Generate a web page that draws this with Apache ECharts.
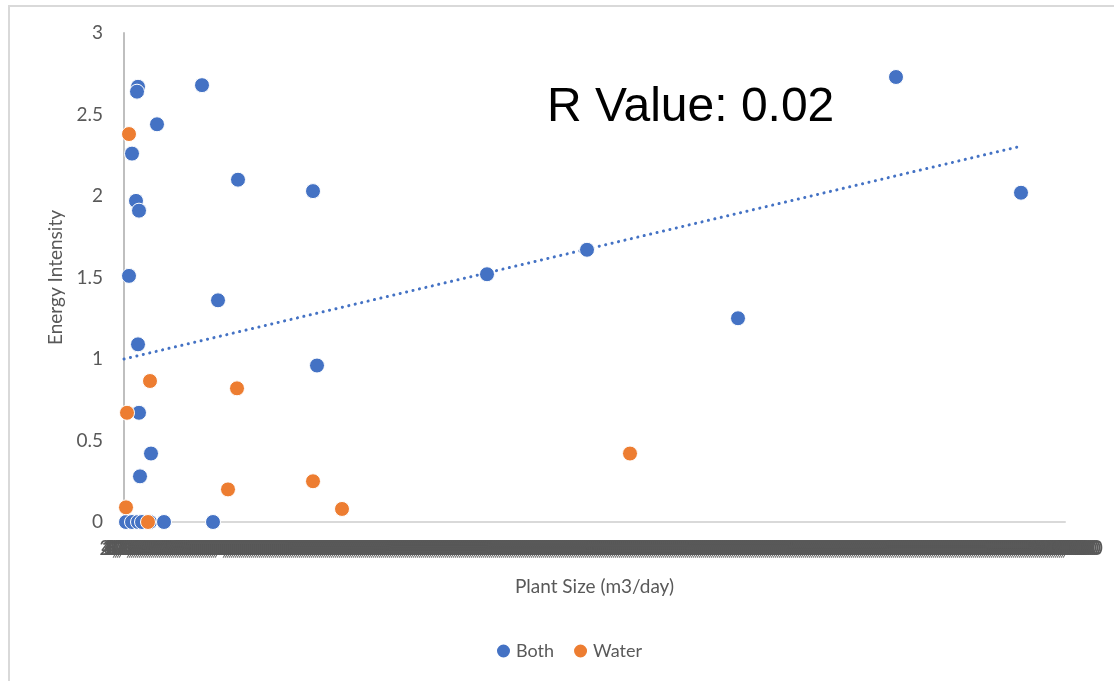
<!DOCTYPE html>
<html>
<head>
<meta charset="utf-8">
<script src="https://cdn.jsdelivr.net/npm/echarts@6/dist/echarts.min.js"></script>
<style>
  html, body { margin: 0; padding: 0; background: #ffffff; }
  #chart { width: 1114px; height: 681px; }
</style>
</head>
<body>
<div id="chart"></div>
<script>
// Plant size (m3/day) and energy intensity for plants treating both streams
const bothSize = [14000, 13000, 78000, 33000, 8000, 114000, 189000, 12000, 15000, 5000,
  94000, 14000, 193000, 15000, 27000, 16000, 2000, 8000, 14000, 18000, 26000, 40000, 89000,
  363000, 463000, 614000, 772000, 897000];
const bothIntensity = [2.67, 2.64, 2.68, 2.44, 2.26, 2.10, 2.03, 1.97, 1.91, 1.51,
  1.36, 1.09, 0.96, 0.67, 0.42, 0.28, 0, 0, 0, 0, 0, 0, 0,
  1.52, 1.67, 1.25, 2.73, 2.02];

// Plants treating water only
const waterSize = [5000, 26000, 3000, 113000, 2000, 24000, 104000, 189000, 218000, 506000];
const waterIntensity = [2.38, 0.865, 0.67, 0.82, 0.09, 0, 0.20, 0.25, 0.08, 0.42];

// Linear trendline end points
const trendSize = [0, 893000];
const trendIntensity = [1.0, 2.30];

const rValueText = 'R Value: 0.02';
const xMax = 941000;
const xStep = 2000;

const pairs = (xs, ys) => xs.map((x, i) => [x, ys[i]]);

const font = 'Lato, "Open Sans", sans-serif';
const grey = '#595959';

const chart = echarts.init(document.getElementById('chart'), null, { renderer: 'canvas' });
chart.setOption({
  animation: false,
  backgroundColor: '#ffffff',
  grid: { left: 124, right: 49, top: 33, bottom: 159, containLabel: false },
  graphic: [
    {
      type: 'rect',
      shape: { x: 9, y: 6, width: 1200, height: 800 },
      style: { fill: 'none', stroke: '#d9d9d9', lineWidth: 2 },
      silent: true,
      z: -1
    },
    {
      type: 'text',
      left: 547,
      top: 84,
      style: { text: rValueText, font: '48px "Liberation Sans", Arial, sans-serif', fill: '#000000' }
    }
  ],
  legend: {
    data: ['Both', 'Water'],
    left: 490,
    top: 637,
    icon: 'circle',
    itemWidth: 15,
    itemHeight: 15,
    itemGap: 18,
    textStyle: { fontFamily: font, fontSize: 18, color: grey }
  },
  xAxis: {
    type: 'value',
    min: 0,
    max: xMax,
    interval: xStep,
    name: 'Plant Size (m3/day)',
    nameLocation: 'middle',
    nameGap: 55,
    nameTextStyle: { fontFamily: font, fontSize: 19, color: grey },
    axisLine: { show: true, lineStyle: { color: '#d9d9d9', width: 2 } },
    axisTick: { show: false },
    splitLine: { show: false },
    axisLabel: {
      show: true,
      margin: 16,
      fontFamily: font,
      fontSize: 21,
      color: grey,
      hideOverlap: false
    }
  },
  yAxis: {
    type: 'value',
    min: 0,
    max: 3,
    interval: 0.5,
    name: 'Energy Intensity',
    nameLocation: 'middle',
    nameGap: 56,
    nameTextStyle: { fontFamily: font, fontSize: 19, color: grey },
    axisLine: { show: true, lineStyle: { color: '#bfbfbf', width: 2 } },
    axisTick: { show: false },
    splitLine: { show: false },
    axisLabel: { margin: 21, fontFamily: font, fontSize: 19, color: grey }
  },
  series: [
    {
      name: 'Both',
      type: 'scatter',
      data: pairs(bothSize, bothIntensity),
      symbol: 'circle',
      symbolSize: 15,
      itemStyle: { color: '#4472C4', opacity: 1, borderColor: '#ffffff', borderWidth: 1 },
      z: 3
    },
    {
      name: 'Water',
      type: 'scatter',
      data: pairs(waterSize, waterIntensity),
      symbol: 'circle',
      symbolSize: 15,
      itemStyle: { color: '#ED7D31', opacity: 1, borderColor: '#ffffff', borderWidth: 1 },
      z: 4
    },
    {
      name: 'Trend',
      type: 'line',
      data: pairs(trendSize, trendIntensity),
      symbol: 'none',
      silent: true,
      lineStyle: { color: '#4472C4', width: 3, type: [0.1, 6.5], cap: 'round' },
      z: 2
    }
  ]
});
</script>
</body>
</html>
